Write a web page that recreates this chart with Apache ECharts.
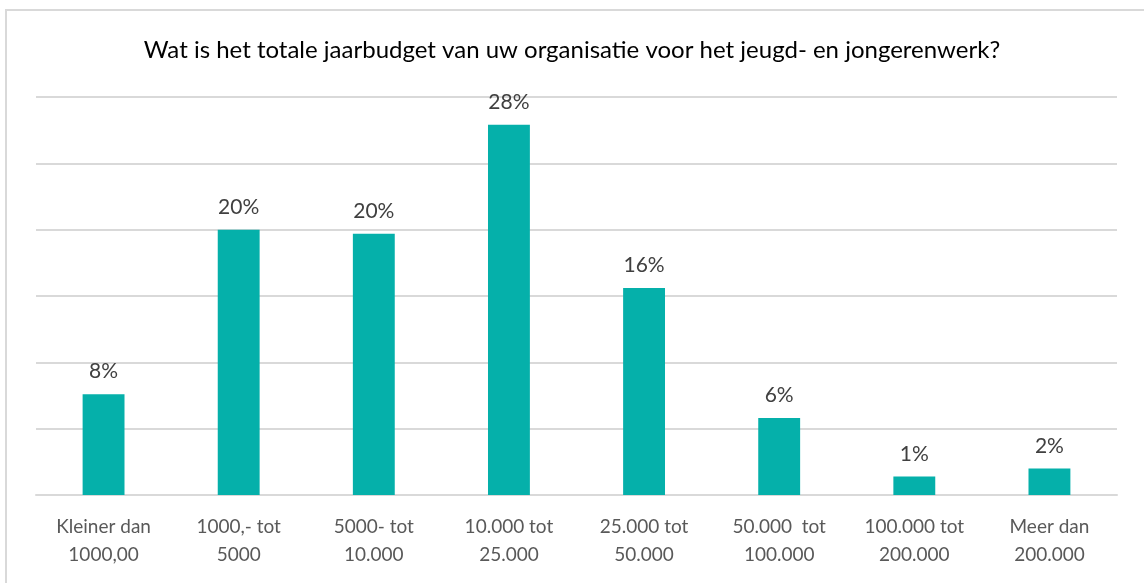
<!DOCTYPE html>
<html>
<head>
<meta charset="utf-8">
<script src="https://cdn.jsdelivr.net/npm/echarts@6/dist/echarts.min.js"></script>
<style>
  html, body { margin: 0; padding: 0; background: #fff; }
  #chart { width: 1144px; height: 583px; }
</style>
</head>
<body>
<div id="chart"></div>
<script>
const categories = [
  'Kleiner dan\n1000,00',
  '1000,- tot\n5000',
  '5000- tot\n10.000',
  '10.000 tot\n25.000',
  '25.000 tot\n50.000',
  '50.000  tot\n100.000',
  '100.000 tot\n200.000',
  'Meer dan\n200.000'
];
const percentages = [7.6, 20.0, 19.7, 27.9, 15.6, 5.8, 1.4, 2.0];

const chart = echarts.init(document.getElementById('chart'));
const font = 'Lato, "Open Sans", sans-serif';

chart.setOption({
  animation: false,
  title: {
    text: 'Wat is het totale jaarbudget van uw organisatie voor het jeugd- en jongerenwerk?',
    left: 'center',
    top: 33,
    textStyle: { fontFamily: font, fontSize: 24, fontWeight: 'normal', color: '#000' }
  },
  graphic: [{
    type: 'rect',
    shape: { x: 6, y: 10, width: 1200, height: 700 },
    style: { fill: 'none', stroke: '#d9d9d9', lineWidth: 2 },
    silent: true
  }],
  grid: { left: 36, right: 27, top: 97, bottom: 88, containLabel: false },
  xAxis: {
    type: 'category',
    data: categories,
    axisLine: { lineStyle: { color: '#d9d9d9', width: 2 } },
    axisTick: { show: false },
    axisLabel: {
      fontFamily: font, fontSize: 19, color: '#595959',
      lineHeight: 28, margin: 18, interval: 0
    }
  },
  yAxis: {
    type: 'value',
    min: 0,
    max: 30,
    interval: 5,
    axisLabel: { show: false },
    axisLine: { show: false },
    axisTick: { show: false },
    splitLine: { lineStyle: { color: '#d9d9d9', width: 2 } }
  },
  series: [{
    type: 'bar',
    data: percentages,
    barWidth: '31%',
    itemStyle: { color: '#05b0aa' },
    label: {
      show: true,
      position: 'top',
      distance: 12,
      fontFamily: font,
      fontSize: 21,
      color: '#404040',
      formatter: p => Math.round(p.value) + '%'
    }
  }]
});
</script>
</body>
</html>
